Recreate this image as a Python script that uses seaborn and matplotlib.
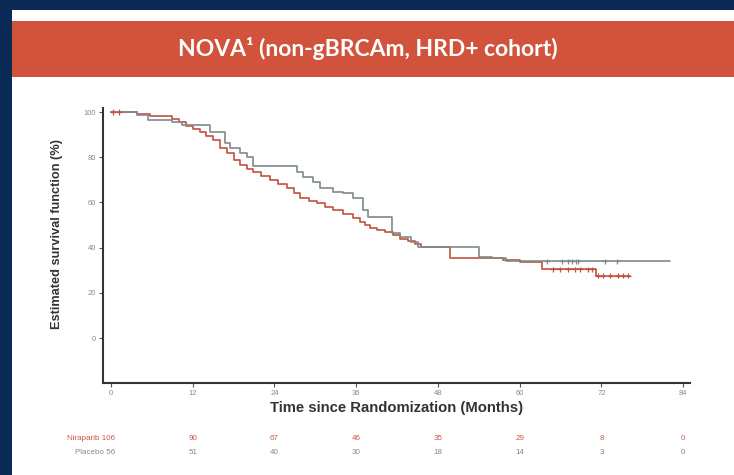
import numpy as np
import pandas as pd
import seaborn as sns
import matplotlib.pyplot as plt
from matplotlib.patches import Rectangle

# ---- data ----
nira_t = [0, 3.8, 5.7, 8.9, 10, 11, 12, 13, 14, 15, 16, 17, 18, 18.9, 20, 20.9, 22, 23.3, 24.5,
          25.8, 26.8, 27.8, 29, 30.2, 31.4, 32.6, 34, 35.5, 36.5, 37.3, 38, 39, 40.2, 41.4, 42.5,
          43.6, 44.7, 45.5, 49.8, 57.5, 60, 63.3, 71.2, 76.2]
nira_s = [100, 99, 98.2, 97, 95.5, 94, 92.5, 91, 89.5, 87.5, 84, 82, 79, 76.5, 75, 73.6, 71.8, 69.9, 68,
          66.2, 64, 61.8, 60.6, 59.6, 58, 56.6, 54.8, 53, 51.5, 50, 48.5, 47.6, 46.8, 45.5, 44,
          42.8, 41.5, 40.3, 35.5, 34.5, 33.8, 30.5, 27.6, 27.6]
plac_t = [0, 3.8, 5.5, 8.9, 10.5, 14.5, 16.7, 17.5, 19, 20, 20.8, 27.3, 28.2, 29.7, 30.7, 32.6,
          34.0, 35.5, 37.0, 37.7, 41.2, 42.5, 44, 45, 54, 56, 58, 82]
plac_s = [100, 98.7, 96.5, 95.5, 94.2, 91.3, 86.1, 84, 82, 80.2, 76.1, 73.5, 71.4, 69.2, 66.2, 64.7,
          64, 61.8, 56.6, 53.7, 46.4, 44.5, 42.5, 40.4, 36, 35.2, 34, 34]

nira_cens_t = [0.3, 1.2, 64.9, 65.9, 67.1, 68.1, 68.9, 70.0, 70.6, 71.5, 72.2, 73.3, 74.4, 75.2, 75.9]
nira_cens_s = [100, 100, 30.5, 30.5, 30.5, 30.5, 30.5, 30.5, 30.5, 27.6, 27.6, 27.6, 27.6, 27.6, 27.6]
plac_cens_t = [64.0, 66.2, 67.1, 67.7, 68.3, 68.6, 72.5, 74.3]
plac_cens_s = [34, 34, 34, 34, 34, 34, 34, 34]

risk_months = [0, 12, 24, 36, 48, 60, 72, 84]
nira_risk = [106, 90, 67, 46, 35, 29, 8, 0]
plac_risk = [56, 51, 40, 30, 18, 14, 3, 0]

arm_names = ["Niraparib", "Placebo"]
title = "NOVA\u00b9 (non-gBRCAm, HRD+ cohort)"

RED = "#C4503F"
GRAY = "#7E8A8C"
NAVY = "#0B2A55"
BANNER = "#D2533C"

curves = pd.concat([
    pd.DataFrame({"time": nira_t, "surv": nira_s, "arm": arm_names[0]}),
    pd.DataFrame({"time": plac_t, "surv": plac_s, "arm": arm_names[1]}),
])
cens = pd.concat([
    pd.DataFrame({"time": nira_cens_t, "surv": nira_cens_s, "arm": arm_names[0]}),
    pd.DataFrame({"time": plac_cens_t, "surv": plac_cens_s, "arm": arm_names[1]}),
])

sns.set_theme(style="white")
plt.rcParams["font.family"] = ["Liberation Sans", "DejaVu Sans"]

W, H = 734, 475
fig = plt.figure(figsize=(W / 100, H / 100), dpi=100)
fig.patch.set_facecolor(NAVY)

# white slide panel and red banner
fig.add_artist(Rectangle((12 / W, 0), 1 - 12 / W, 1 - 10 / H, transform=fig.transFigure,
                         facecolor="white", edgecolor="none", zorder=-2))
fig.add_artist(Rectangle((12 / W, 1 - 77 / H), 1 - 12 / W, 56 / H, transform=fig.transFigure,
                         facecolor=BANNER, edgecolor="none", zorder=-1))
fig.text(368 / W, 1 - 49 / H, title, ha="center", va="center", color="white",
         fontsize=16.5, fontweight="bold", family=["Lato", "DejaVu Sans"])

ax = fig.add_axes([103 / W, 1 - 383 / H, (690 - 103) / W, (383 - 108) / H])
ax.set_facecolor("none")

palette = {arm_names[0]: RED, arm_names[1]: GRAY}
sns.lineplot(data=curves, x="time", y="surv", hue="arm", palette=palette, estimator=None,
             drawstyle="steps-post", linewidth=1.2, legend=False, ax=ax)
sns.scatterplot(data=cens, x="time", y="surv", hue="arm", palette=palette, marker="+",
                s=14, linewidth=0.9, legend=False, ax=ax, zorder=3)

ax.set_xlim(-1.17, 85.0)
ax.set_ylim(-19.9, 101.8)
ax.set_xticks(risk_months)
ax.set_yticks([0, 20, 40, 60, 80, 100])
ax.tick_params(axis="both", which="both", direction="out", length=3, width=0.8,
               colors="#555555", labelsize=5.5, labelcolor="#888888", pad=2)
ax.tick_params(left=True, bottom=True)
for side in ["top", "right"]:
    ax.spines[side].set_visible(False)
for side in ["left", "bottom"]:
    ax.spines[side].set_color("#333333")
    ax.spines[side].set_linewidth(1.5)

ax.set_xlabel("Time since Randomization (Months)", fontsize=10.7, fontweight="bold",
              color="#333333", labelpad=3)
ax.set_ylabel("Estimated survival function (%)", fontsize=9.2, fontweight="bold",
              color="#333333")
ax.yaxis.set_label_coords(-0.068, 0.542)

# number-at-risk table
tr = ax.get_xaxis_transform()
y_n = (383 - 438) / (383 - 108)
y_p = (383 - 452) / (383 - 108)
ax.text(0.6, y_n, f"{arm_names[0]} {nira_risk[0]}", transform=tr, ha="right", va="center",
        fontsize=5.8, color="#D0584A")
ax.text(0.6, y_p, f"{arm_names[1]} {plac_risk[0]}", transform=tr, ha="right", va="center",
        fontsize=5.8, color="#888888")
for m, n, p in zip(risk_months[1:], nira_risk[1:], plac_risk[1:]):
    ax.text(m, y_n, str(n), transform=tr, ha="center", va="center", fontsize=5.8, color="#D0584A")
    ax.text(m, y_p, str(p), transform=tr, ha="center", va="center", fontsize=5.8, color="#888888")

fig.savefig("out.png", dpi=100, facecolor=fig.get_facecolor())
